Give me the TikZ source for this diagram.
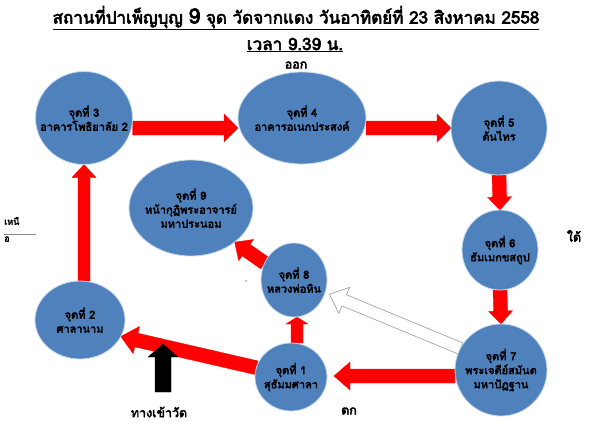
\documentclass[tikz,border=0pt]{standalone}
\usepackage{fontspec}
\setmainfont[Script=Thai, BoldFont={Loma}, BoldFeatures={FakeBold=3.5}]{Loma}
\usetikzlibrary{shapes.geometric,calc,backgrounds}
\definecolor{spotblue}{RGB}{79,129,189}
\definecolor{spotedge}{RGB}{200,216,236}
\definecolor{arrowred}{RGB}{255,0,0}
% #1 style, #2 tail, #3 tip, #4 half shaft, #5 half head, #6 head length
\newcommand\blockarrow[6][]{%
  \filldraw[#1] ($(#2)!#4!90:(#3)$)
    -- ($($(#3)!#6!(#2)$)!#4!90:(#3)$)
    -- ($($(#3)!#6!(#2)$)!#5!90:(#3)$)
    -- (#3)
    -- ($($(#3)!#6!(#2)$)!#5!-90:(#3)$)
    -- ($($(#3)!#6!(#2)$)!#4!-90:(#3)$)
    -- ($(#2)!#4!-90:(#3)$) -- cycle;}
\begin{document}
\begin{tikzpicture}[x=1pt,y=-1pt,
  spot/.style={ellipse, fill=spotblue, draw=spotedge, line width=0.8pt,
    inner xsep=-25pt, inner ysep=-12pt, outer sep=0pt,
    align=center, font=\bfseries\fontsize{11}{14}\selectfont},
  redarrow/.style={fill=arrowred, draw=arrowred, line width=0.3pt},
  whitearrow/.style={fill=white, draw=black!40, line width=0.6pt},
  blackarrow/.style={fill=black, draw=black, line width=0.3pt},
  dirlabel/.style={font=\bfseries\fontsize{12.5}{14}\selectfont, inner sep=0pt}]
\useasboundingbox (0,0) rectangle (593,428);
% title
\node[font=\bfseries\fontsize{17}{20}\selectfont, inner sep=0pt] (title1) at (296,18)
  {\underline{สถานที่ปาเพ็ญบุญ {\fontsize{21}{22}\selectfont 9} จุด วัดจากแดง วันอาทิตย์ที่ 23 สิงหาคม 2558}};
\node[font=\bfseries\fontsize{17}{20}\selectfont, inner sep=0pt] (title2) at (295,45)
  {\underline{เวลา 9.39 น.}};
% spots
\node[spot, minimum width=97pt, minimum height=93pt] (n3) at (84,118) {จุดที่ 3\\อาคารโพธิยาลัย 2};
\node[spot, minimum width=128pt, minimum height=92pt] (n4) at (302,118) {จุดที่ 4\\อาคารอเนกประสงค์};
\node[spot, minimum width=96pt, minimum height=94pt] (n5) at (499,128) {จุดที่ 5\\ต้นไทร};
\node[spot, minimum width=76pt, minimum height=80pt] (n6) at (500,250) {จุดที่ 6\\ธัมเมกขสถูป};
\node[spot, minimum width=92pt, minimum height=92pt] (n7) at (501,370) {จุดที่ 7\\พระเจดีย์สมันต\\มหาปัฏฐาน};
\node[spot, minimum width=72pt, minimum height=68pt] (n1) at (291,377) {จุดที่ 1\\สุธัมมศาลา};
\node[spot, minimum width=66pt, minimum height=74pt] (n8) at (294,280) {จุดที่ 8\\หลวงพ่อหิน};
\node[spot, minimum width=90pt, minimum height=78pt] (n2) at (80,320) {จุดที่ 2\\ศาลานาม};
\node[spot, minimum width=124pt, minimum height=96pt] (n9) at (191,208) {จุดที่ 9\\หน้ากุฏิพระอาจารย์\\มหาประนอม};
% direction labels
\node[dirlabel] (east) at (296,65) {ออก};
\node[dirlabel] (south) at (574,236) {ใต้};
\node[dirlabel] (west) at (349,411) {ตก};
\node[dirlabel] (entry) at (159,412) {ทางเข้าวัด};
\node[font=\bfseries\fontsize{9}{10}\selectfont, inner sep=0pt, anchor=west] (north1) at (4,221) {เหนื};
\node[font=\bfseries\fontsize{9}{10}\selectfont, inner sep=0pt, anchor=west] (north2) at (4,239) {อ};
\coordinate (nl1) at (4,234);
\coordinate (nl2) at (36,234);
\draw[black!45, line width=0.5pt] (nl1) -- (nl2);
\fill[black!45] (246,281) circle (0.9pt);
% arrow end points
\coordinate (a34s) at (n3.east |- 0,128);
\coordinate (a34e) at (n4.west |- 0,128);
\coordinate (a45s) at (n4.east |- 0,128);
\coordinate (a45e) at (n5.west |- 0,128);
\coordinate (a56s) at (n5.south);
\coordinate (a56e) at (n6.north);
\coordinate (a67s) at (n6.south);
\coordinate (a67e) at (n7.north);
\coordinate (a71s) at (n7.west |- 0,376);
\coordinate (a71e) at ($(n1.east |- 0,376)+(7,0)$);
\coordinate (a12s) at (n1.165);
\coordinate (a12e) at (n2.-22);
\coordinate (a23s) at (n3.south |- n2.north);
\coordinate (a23e) at (n3.south);
\coordinate (a18s) at ($(n8.south |- n1.north)+(3,0)$);
\coordinate (a18e) at ($(n8.south)+(3,0)$);
\coordinate (a89s) at (n8.150);
\coordinate (a89e) at (n9.-38);
\coordinate (a78s) at (n7.152);
\coordinate (a78e) at ($(n8.-25)+(5,0)$);
\coordinate (entrytail) at (163,392);
\coordinate (entrytip) at (163,344);
% arrows
\begin{pgfonlayer}{background}
\blockarrow[redarrow]{a34s}{a34e}{7pt}{14pt}{14pt}
\blockarrow[redarrow]{a45s}{a45e}{7pt}{14pt}{14pt}
\blockarrow[redarrow]{a56s}{a56e}{7pt}{12pt}{13pt}
\blockarrow[redarrow]{a67s}{a67e}{7pt}{12pt}{13pt}
\blockarrow[redarrow]{a71s}{a71e}{7pt}{14pt}{16pt}
\blockarrow[redarrow]{a12s}{a12e}{7pt}{14pt}{16pt}
\blockarrow[redarrow]{a23s}{a23e}{6pt}{12pt}{13pt}
\blockarrow[redarrow]{a18s}{a18e}{6pt}{11pt}{7pt}
\blockarrow[redarrow]{a89s}{a89e}{7pt}{13pt}{14pt}
\blockarrow[whitearrow]{a78s}{a78e}{6pt}{14pt}{16pt}
\blockarrow[blackarrow]{entrytail}{entrytip}{8pt}{15pt}{13pt}
\end{pgfonlayer}
\end{tikzpicture}
\end{document}
